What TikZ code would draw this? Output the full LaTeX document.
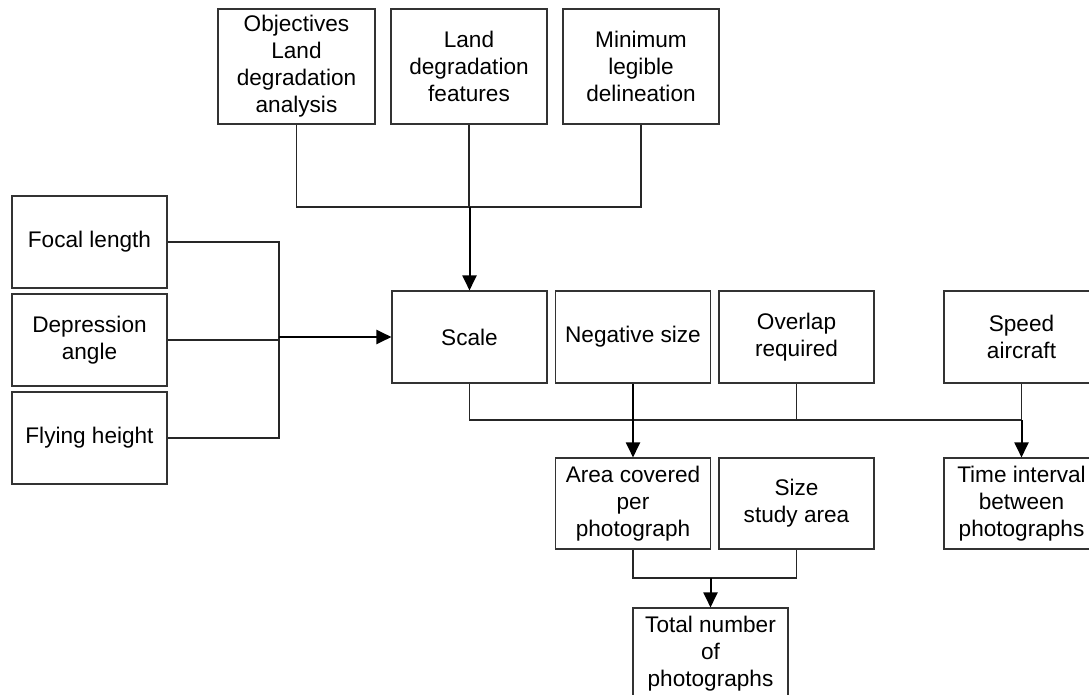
\documentclass[tikz,border=0pt]{standalone}
\usepackage{fontspec}
\setmainfont{Liberation Sans}
\usetikzlibrary{arrows.meta}
\begin{document}
\begin{tikzpicture}[x=1pt,y=-1pt,
  box/.style={draw=black!80,line width=1.1pt,minimum width=155pt,minimum height=92pt,inner sep=0pt,align=center,font=\fontsize{22.6}{27}\selectfont},
  conn/.style={draw=black!85,line width=1.1pt},
  arr/.style={draw=black,line width=2pt,-{Triangle[length=15pt,width=14pt]}}]
\useasboundingbox (0,0) rectangle (1089,695);
% top row
\node[box,minimum width=157pt,minimum height=115pt] (obj) at (296.5,66.5) {Objectives\\Land\\degradation\\analysis};
\node[box,minimum width=156pt,minimum height=115pt] (ldf) at (469,66.5) {Land\\degradation\\features};
\node[box,minimum width=156pt,minimum height=115pt] (mld) at (641,66.5) {Minimum\\legible\\delineation};
% left column
\node[box] (focal) at (89.5,242) {Focal length};
\node[box] (dep) at (89.5,340) {Depression\\angle};
\node[box] (fly) at (89.5,438) {Flying height};
% middle row
\node[box] (scale) at (469.5,337) {Scale};
\node[box] (neg) at (633,337) {Negative size};
\node[box] (ovl) at (796.5,337) {Overlap\\required};
\node[box] (spd) at (1021.5,337) {Speed\\aircraft};
% lower row
\node[box,minimum height=91pt] (area) at (633,503.5) {Area covered\\per\\photograph};
\node[box,minimum height=91pt] (size) at (796.5,503.5) {Size\\study area};
\node[box,minimum height=91pt] (time) at (1021.5,503.5) {Time interval\\between\\photographs};
\node[box] (total) at (710.5,654) {Total number\\of\\photographs};
% junctions
\coordinate (j1) at (469.5,207);
\coordinate (j2) at (279,340);
\coordinate (j4) at (469.5,420);
\coordinate (j5) at (710.5,578);
% connectors top
\draw[conn] (obj.south) |- (j1) -| (mld.south);
\draw[conn] (ldf.south) -- (ldf.south |- j1);
\draw[arr] (j1) -- (scale.north);
% connectors left
\draw[conn] (focal.east) -| (j2) |- (fly.east);
\draw[conn] (dep.east) -- (j2);
\draw[arr] (j2 |- scale.west) -- (scale.west);
% connectors middle
\draw[conn] (scale.south) -- (j4) -| (spd.south);
\draw[conn] (ovl.south) -- (ovl.south |- j4);
\draw[arr] (neg.south) -- (area.north);
\draw[arr] (spd.south |- j4) -- (time.north);
% connectors bottom
\draw[conn] (area.south) |- (j5) -| (size.south);
\draw[arr] (j5) -- (total.north);
\end{tikzpicture}
\end{document}
